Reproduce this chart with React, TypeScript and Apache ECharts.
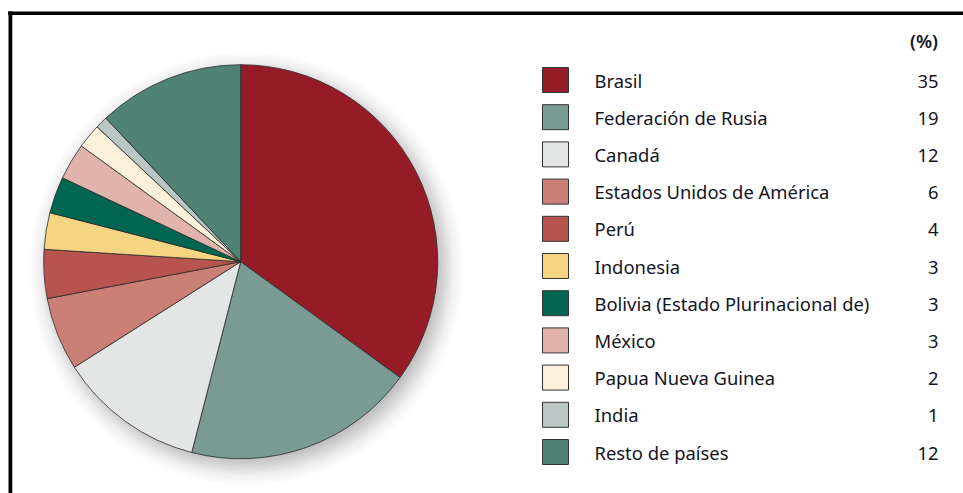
import React, { useEffect, useRef } from "react";
import * as echarts from "echarts";

const categories = [
  "Brasil",
  "Federación de Rusia",
  "Canadá",
  "Estados Unidos de América",
  "Perú",
  "Indonesia",
  "Bolivia (Estado Plurinacional de)",
  "México",
  "Papua Nueva Guinea",
  "India",
  "Resto de países",
];
const values = [35, 19, 12, 6, 4, 3, 3, 3, 2, 1, 12];
const colors = [
  "#951B26",
  "#7A9B93",
  "#E3E6E4",
  "#CA8077",
  "#B8544F",
  "#F3D582",
  "#006652",
  "#E0B3AB",
  "#FBF1DA",
  "#BBC7C4",
  "#508276",
];
const unitLabel = "(%)";

export default function App() {
  const ref = useRef<HTMLDivElement>(null);
  useEffect(() => {
    if (!ref.current) return;
    const chart = echarts.init(ref.current, null, { renderer: "svg" });
    const font = "'Noto Sans', sans-serif";
    const textColor = "#14141f";
    const fs = 18.4;
    const valueMap: Record<string, number> = {};
    categories.forEach((c, i) => (valueMap[c] = values[i]));
    chart.setOption({
      animation: false,
      backgroundColor: "#ffffff",
      graphic: [
        { type: "rect", shape: { x: 8, y: 11.5, width: 960, height: 3.5 }, style: { fill: "#000" }, silent: true, z: 10 },
        { type: "rect", shape: { x: 8.5, y: 11.5, width: 3.8, height: 490 }, style: { fill: "#000" }, silent: true, z: 10 },
        {
          type: "circle",
          silent: true,
          z: -1,
          shape: { cx: 246.5, cy: 268.5, r: 218 },
          style: {
            fill: new echarts.graphic.RadialGradient(0.5, 0.5, 0.5, [
              { offset: 0, color: "rgba(0,0,0,0.4)" },
              { offset: 0.84, color: "rgba(0,0,0,0.32)" },
              { offset: 0.9, color: "rgba(0,0,0,0.18)" },
              { offset: 0.95, color: "rgba(0,0,0,0.06)" },
              { offset: 1, color: "rgba(0,0,0,0)" },
            ]),
          },
        },
        {
          type: "text",
          right: 963 - 938,
          top: 31,
          style: { text: unitLabel, fontFamily: font, fontSize: fs, fill: textColor, fontWeight: 600 },
        },
      ],
      legend: {
        orient: "vertical",
        left: 542,
        top: 67,
        padding: 0,
        itemWidth: 26,
        itemHeight: 25,
        itemGap: 11.2,
        icon: "rect",
        data: categories,
        selectedMode: false,
        itemStyle: { borderColor: "#333", borderWidth: 1 },
        formatter: (name: string) => `{n|${name}}{v|${valueMap[name]}}`,
        textStyle: {
          fontFamily: font,
          fontSize: fs,
          color: textColor,
          rich: {
            n: { width: 300, padding: [0, 0, 0, 21], fontFamily: font, fontSize: fs, color: textColor },
            v: { width: 44, align: "right", fontFamily: font, fontSize: fs, color: textColor },
          },
        },
      },
      series: [
        {
          type: "pie",
          center: [240.7, 261.7],
          radius: 197,
          startAngle: 90,
          clockwise: true,
          label: { show: false },
          labelLine: { show: false },
          emphasis: { disabled: true },
          itemStyle: { borderColor: "#2b2b2b", borderWidth: 0.8 },
          data: categories.map((c, i) => ({
            name: c,
            value: values[i],
            itemStyle: { color: colors[i] },
          })),
        },
      ],
    });
    return () => chart.dispose();
  }, []);
  return (
    <div
      ref={ref}
      style={{ position: "fixed", left: 0, top: 0, width: 963, height: 493 }}
    />
  );
}
